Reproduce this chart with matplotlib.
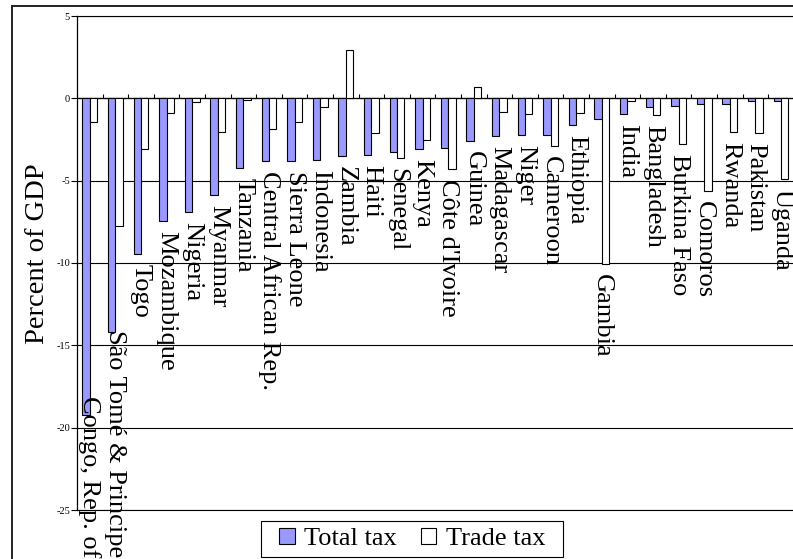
import matplotlib
matplotlib.use('Agg')
import matplotlib.pyplot as plt
from matplotlib.lines import Line2D
from matplotlib.patches import Rectangle
import numpy as np

plt.rcParams.update({'font.family': 'Liberation Serif'})

# data (percent of GDP)
countries = ['Congo, Rep. of', 'São Tomé & Principe', 'Togo', 'Mozambique', 'Nigeria',
             'Myanmar', 'Tanzania', 'Central African Rep.', 'Sierra Leone', 'Indonesia',
             'Zambia', 'Haiti', 'Senegal', 'Kenya', "Côte d'Ivoire", 'Guinea', 'Madagascar',
             'Niger', 'Cameroon', 'Ethiopia', 'Gambia', 'India', 'Bangladesh',
             'Burkina Faso', 'Comoros', 'Rwanda', 'Pakistan', 'Uganda']
total_tax = [-19.25, -14.2, -9.43, -7.42, -6.88, -5.89, -4.21, -3.83, -3.83, -3.73,
             -3.51, -3.45, -3.23, -3.09, -3.0, -2.6, -2.3, -2.22, -2.22, -1.61,
             -1.27, -0.95, -0.54, -0.48, -0.34, -0.34, -0.16, -0.16]
trade_tax = [-1.41, -7.76, -3.1, -0.89, -0.2, -2.06, -0.1, -1.84, -1.45, -0.54,
             2.96, -2.1, -3.64, -2.52, -4.27, 0.66, -0.83, -0.97, -2.88, -0.91,
             -10.04, -0.16, -1.01, -2.78, -5.6, -2.04, -2.12, -4.88]
yticks = [5, 0, -5, -10, -15, -20, -25]

W, H = 793, 559
fig = plt.figure(figsize=(W / 100, H / 100), dpi=100)
ax = fig.add_axes([77 / W, 49 / H, 1.001 - 77 / W, 494 / H])

x = np.arange(len(countries))
w = 0.29
ax.bar(x - w / 2, total_tax, w, color='#9999ff', edgecolor='black', linewidth=0.8,
       label='Total tax', zorder=3)
ax.bar(x + w / 2, trade_tax, w, color='white', edgecolor='black', linewidth=0.8,
       label='Trade tax', zorder=3)

ax.set_xlim(-0.5, len(countries) - 0.5)
ax.set_ylim(-25, 5)
ax.set_yticks(yticks)
ax.set_yticklabels([str(v) for v in yticks])
ax.tick_params(axis='y', labelsize=7.5, length=4, width=0.8, pad=1)

# category axis sits on the zero line
ax.spines['bottom'].set_position(('data', 0))
ax.spines['top'].set_visible(False)
ax.spines['right'].set_visible(False)
ax.spines['left'].set_linewidth(0.9)
ax.spines['bottom'].set_linewidth(0.9)
ax.set_xticks(np.arange(len(countries) + 1) - 0.5)
ax.set_xticklabels([])
ax.tick_params(axis='x', direction='in', length=3, width=0.8)

ax.yaxis.grid(True, color='black', linewidth=0.8)
ax.axhline(-25, color='black', linewidth=0.8, clip_on=False, zorder=0.5)
ax.axhline(5, color='black', linewidth=0.8, clip_on=False, zorder=0.5)
ax.set_axisbelow(True)

fig.text(38 / W, 1 - 254 / H, 'Percent of GDP', rotation=90, ha='center',
         va='center', fontsize=20.5)

# category names below the lower bar
off = 10
labels = []
for i, name in enumerate(countries):
    low = min(total_tax[i], trade_tax[i], 0)
    t = ax.annotate(name, (x[i], low), xytext=(0, -off), textcoords='offset pixels',
                    rotation=-90, ha='center', va='top', fontsize=19, zorder=4)
    labels.append((t, off))

fig.canvas.draw()
r = fig.canvas.get_renderer()
for t, o in labels:
    bb = t.get_window_extent(r)
    if bb.y0 < 2:
        t.xyann = (0, -(o - (2 - bb.y0)))

leg = fig.legend(loc='center', bbox_to_anchor=(412 / W, 1 - 539 / H), ncol=2,
                 fontsize=19, frameon=False, handlelength=0.6,
                 handleheight=0.6, handletextpad=0.35, columnspacing=0.9,
                 borderpad=0.25, borderaxespad=0)
fig.add_artist(Rectangle((261 / W, 1 - 557 / H), 302 / W, 36 / H, transform=fig.transFigure,
                         facecolor='white', edgecolor='black', linewidth=0.8, zorder=1))
leg.set_zorder(2)

# outer chart frame (left and top visible)
fig.add_artist(Line2D([12 / W, 12 / W], [0, 1 - 5.5 / H], transform=fig.transFigure,
                      color='#222222', linewidth=1.4))
fig.add_artist(Line2D([12 / W, 1], [1 - 5.5 / H, 1 - 5.5 / H], transform=fig.transFigure,
                      color='#222222', linewidth=1.4))

fig.savefig('out.png', dpi=100)
